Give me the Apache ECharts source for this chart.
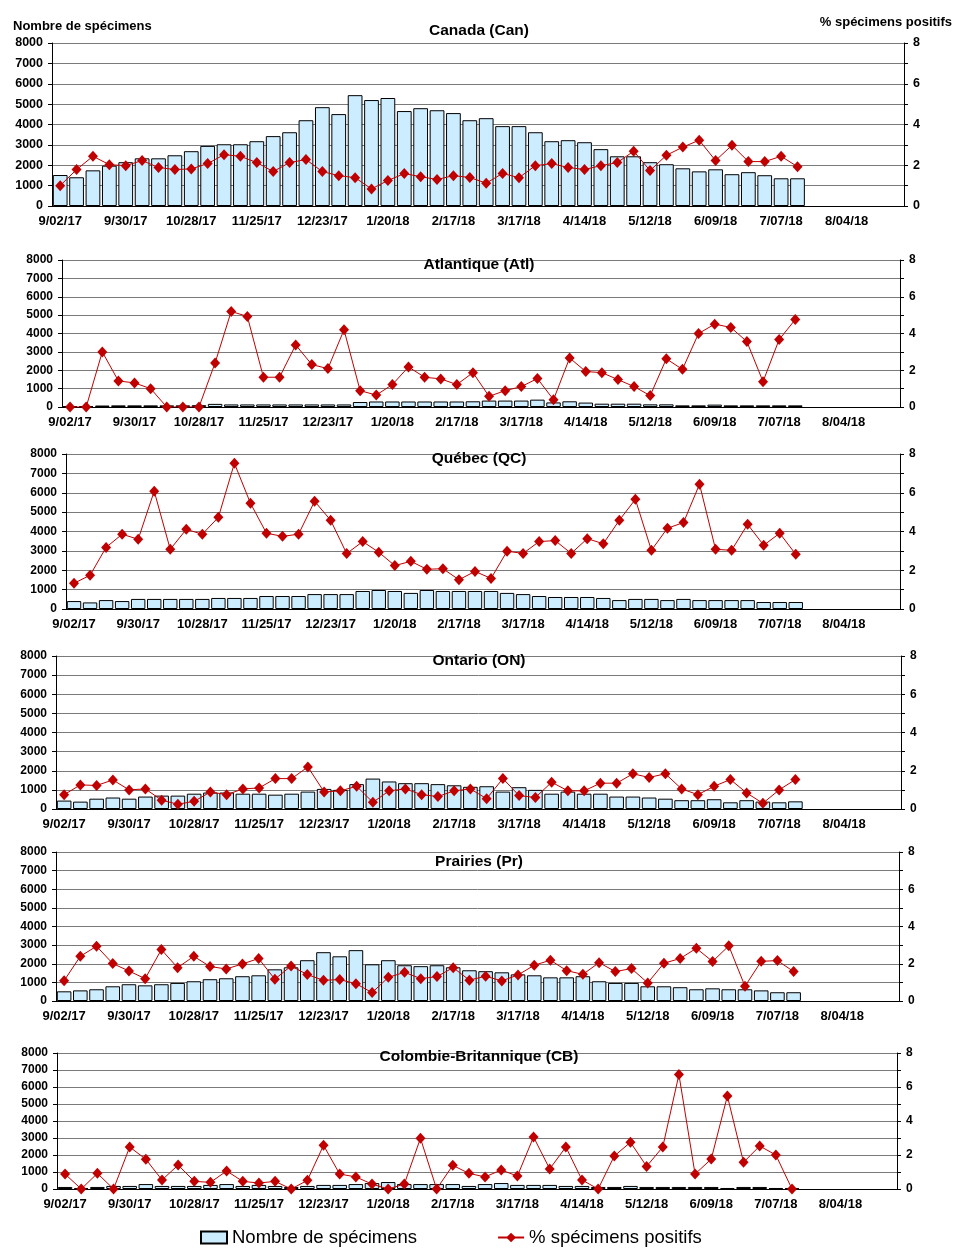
<!DOCTYPE html>
<html>
<head>
<meta charset="UTF-8">
<title>Spécimens par semaine</title>
<style>
    html,body{padding:0; margin:0; background:#fff;}
    #main{width:959px; height:1260px;}
</style>
<script src="https://cdn.jsdelivr.net/npm/echarts@6/dist/echarts.min.js"></script>
</head>
<body>
<div id="main"></div>
<script type="text/javascript">
    // semaines (axe des catégories)
    var weeks = ['9/02/17','9/09/17','9/16/17','9/23/17','9/30/17','10/07/17','10/14/17','10/21/17',
        '10/28/17','11/04/17','11/11/17','11/18/17','11/25/17','12/02/17','12/09/17','12/16/17',
        '12/23/17','12/30/17','1/06/18','1/13/18','1/20/18','1/27/18','2/03/18','2/10/18',
        '2/17/18','2/24/18','3/03/18','3/10/18','3/17/18','3/24/18','3/31/18','4/07/18',
        '4/14/18','4/21/18','4/28/18','5/05/18','5/12/18','5/19/18','5/26/18','6/02/18',
        '6/09/18','6/16/18','6/23/18','6/30/18','7/07/18','7/14/18','7/21/18','7/28/18',
        '8/04/18','8/11/18','8/18/18','8/25/18'];

    // Canada
    var canNombre = [1520,1410,1750,1980,2150,2340,2340,2490,2690,2950,3030,3030,3180,3430,3620,4210,
        4850,4510,5440,5200,5300,4660,4800,4700,4560,4210,4310,3920,3920,3620,3180,3230,
        3130,2790,2440,2440,2150,2050,1850,1700,1800,1560,1660,1510,1360,1360];
    var canPct = [1.0,1.79,2.44,2.03,1.98,2.23,1.89,1.79,1.82,2.08,2.52,2.44,2.13,1.69,2.13,2.28,
        1.69,1.49,1.39,0.84,1.25,1.59,1.44,1.30,1.49,1.40,1.12,1.60,1.39,1.98,2.08,1.89,
        1.79,1.98,2.13,2.69,1.74,2.49,2.89,3.23,2.23,2.98,2.18,2.18,2.44,1.93];

    // Atlantique
    var atlNombre = [40,50,80,90,90,90,90,90,100,170,140,140,140,140,140,140,
        140,140,270,300,300,300,300,300,300,310,350,350,350,400,250,310,
        240,180,180,180,145,145,90,90,130,90,90,90,90,90];
    var atlPct = [0,0,3.0,1.42,1.31,1.0,0,0,0,2.4,5.2,4.93,1.62,1.62,3.38,2.31,
        2.09,4.2,0.89,0.65,1.22,2.18,1.62,1.53,1.22,1.87,0.58,0.89,1.11,1.55,0.4,2.67,
        1.93,1.87,1.49,1.11,0.62,2.62,2.05,4.0,4.51,4.33,3.56,1.38,3.67,4.76];

    // Québec
    var qcNombre = [410,340,460,410,520,520,520,520,520,570,570,570,670,670,670,770,
        770,770,930,980,930,830,980,930,930,930,930,830,770,670,620,620,
        620,570,460,520,520,460,520,460,460,460,460,360,360,360];
    var qcPct = [1.33,1.74,3.18,3.86,3.6,6.08,3.08,4.11,3.86,4.73,7.52,5.46,3.91,3.75,3.86,5.56,
        4.58,2.86,3.48,2.93,2.24,2.46,2.05,2.08,1.51,1.94,1.58,2.98,2.87,3.48,3.53,2.87,
        3.63,3.37,4.58,5.66,3.03,4.17,4.46,6.44,3.08,3.03,4.37,3.29,3.91,2.82];

    // Ontario
    var onNombre = [440,385,540,600,540,650,700,700,800,860,860,800,800,750,800,910,
        1050,1000,1300,1590,1440,1350,1350,1300,1240,1160,1190,910,1140,1000,800,910,
        800,800,650,650,600,540,460,460,510,350,460,385,350,400];
    var onPct = [0.75,1.26,1.23,1.52,1.0,1.05,0.46,0.25,0.4,0.89,0.75,1.05,1.1,1.59,1.59,2.2,
        0.89,0.95,1.19,0.35,0.95,1.05,0.75,0.65,0.95,1.05,0.54,1.59,0.7,0.6,1.4,0.95,
        0.95,1.35,1.35,1.84,1.65,1.84,1.05,0.75,1.19,1.54,0.84,0.3,1.0,1.54];

    // Prairies
    var prNombre = [520,570,630,790,900,840,900,970,1060,1170,1220,1330,1380,1700,1810,2190,
        2620,2400,2730,1970,2190,1920,1870,1920,1810,1650,1600,1540,1430,1380,1270,1270,
        1330,1060,970,970,790,790,740,630,680,630,630,570,470,470];
    var prPct = [1.09,2.4,2.94,2.01,1.61,1.2,2.76,1.79,2.4,1.85,1.72,1.99,2.28,1.17,1.88,1.42,
        1.11,1.15,0.93,0.45,1.27,1.54,1.2,1.31,1.79,1.12,1.33,1.08,1.4,1.92,2.19,1.63,
        1.43,2.06,1.58,1.74,0.97,2.03,2.28,2.83,2.12,2.96,0.79,2.13,2.17,1.58];

    // Colombie-Britannique
    var cbNombre = [120,60,120,180,180,290,180,180,180,240,290,180,240,180,120,180,
        240,240,290,350,410,290,290,290,290,180,290,350,240,240,240,180,
        180,120,120,180,120,120,120,120,120,60,120,120,60,60];
    var cbPct = [0.88,0,0.92,0,2.47,1.75,0.53,1.41,0.45,0.39,1.06,0.45,0.35,0.45,0,0.51,
        2.57,0.88,0.71,0.29,0,0.29,2.98,0,1.39,0.92,0.71,1.12,0.76,3.06,1.18,2.47,
        0.53,0,1.94,2.75,1.33,2.47,6.73,0.88,1.76,5.47,1.57,2.53,2.0,0];

    var nomBarres = 'Nombre de spécimens';
    var nomLigne = '% spécimens positifs';

    var panels = [
        {titre:'Canada (Can)', n:canNombre, p:canPct, left:52, top:43, width:852, height:163, ty:31, fs:12.5},
        {titre:'Atlantique (Atl)', n:atlNombre, p:atlPct, left:62, top:260, width:838, height:147, ty:265, fs:12},
        {titre:'Québec (QC)', n:qcNombre, p:qcPct, left:66, top:454, width:834, height:155, ty:459, fs:12},
        {titre:'Ontario (ON)', n:onNombre, p:onPct, left:56, top:656, width:845, height:153, ty:661, fs:12},
        {titre:'Prairies (Pr)', n:prNombre, p:prPct, left:56, top:852, width:843, height:149, ty:862, fs:12},
        {titre:'Colombie-Britannique (CB)', n:cbNombre, p:cbPct, left:57, top:1053, width:840, height:136, ty:1057, fs:12}
    ];

    var police = '"Liberation Sans", Arial, sans-serif';
    var rouge = '#C00000';
    var gris = '#7a7a7a';

    var grids = [], xAxes = [], yAxes = [], series = [], graphics = [];
    panels.forEach(function (pn, i) {
        grids.push({left: pn.left, top: pn.top, width: pn.width, height: pn.height});
        xAxes.push({
            type: 'category', gridIndex: i, data: weeks, boundaryGap: true,
            axisLine: {lineStyle: {color: '#000', width: 1}},
            axisTick: {interval: 0, length: 5, lineStyle: {color: '#000'}},
            axisLabel: {interval: 3, margin: 9, color: '#000', fontWeight: 'bold', fontSize: 13, fontFamily: police},
            splitLine: {show: false}
        });
        yAxes.push({
            type: 'value', gridIndex: i, min: 0, max: 8000, interval: 1000,
            axisLine: {show: true, lineStyle: {color: '#000'}},
            axisTick: {show: true, length: 4, lineStyle: {color: '#000'}},
            axisLabel: {margin: 9, color: '#000', fontWeight: 'bold', fontSize: pn.fs, fontFamily: police,
                formatter: function (v) { return String(v); }},
            splitLine: {show: false}
        });
        // axe de droite : lignes de quadrillage tous les 1, étiquettes aux valeurs paires
        yAxes.push({
            type: 'value', gridIndex: i, position: 'right', min: 0, max: 8, interval: 1,
            axisLine: {show: true, lineStyle: {color: '#000'}},
            axisTick: {show: true, length: 4, lineStyle: {color: '#000'}},
            axisLabel: {margin: 9, color: '#000', fontWeight: 'bold', fontSize: pn.fs, fontFamily: police,
                formatter: function (v) { return v % 2 === 0 ? String(v) : ''; }},
            splitLine: {show: true, lineStyle: {color: gris, width: 1, type: 'solid'}}
        });
        series.push({
            name: nomBarres, type: 'bar', xAxisIndex: i, yAxisIndex: 2 * i,
            data: pn.n, barCategoryGap: '10%',
            itemStyle: {color: '#CCECFF', borderColor: '#000', borderWidth: 1}
        });
        series.push({
            name: nomLigne, type: 'line', xAxisIndex: i, yAxisIndex: 2 * i + 1,
            data: pn.p, symbol: 'diamond', symbolSize: [10, 11], showAllSymbol: true,
            itemStyle: {color: rouge},
            lineStyle: {color: rouge, width: 1}
        });
        graphics.push({
            type: 'text', z: 10,
            style: {text: pn.titre, x: 479, y: pn.ty, textAlign: 'center', textVerticalAlign: 'middle',
                font: 'bold 15.5px ' + police, fill: '#000'}
        });
    });

    graphics.push({
        type: 'text',
        style: {text: nomBarres, x: 13, y: 26, textAlign: 'left', textVerticalAlign: 'middle',
            font: 'bold 13px ' + police, fill: '#000'}
    });
    graphics.push({
        type: 'text',
        style: {text: nomLigne, x: 952, y: 22, textAlign: 'right', textVerticalAlign: 'middle',
            font: 'bold 13px ' + police, fill: '#000'}
    });

    var myChart = echarts.init(document.getElementById('main'));
    var option = {
        animation: false,
        backgroundColor: '#fff',
        grid: grids,
        xAxis: xAxes,
        yAxis: yAxes,
        series: series,
        graphic: graphics,
        legend: {
            data: [{name: nomBarres, icon: 'rect'}, nomLigne],
            left: 195, top: 1223,
            itemWidth: 26, itemHeight: 12, itemGap: 80,
            textStyle: {fontSize: 18.5, color: '#000', fontFamily: police}
        }
    };
    myChart.setOption(option);
</script>
</body>
</html>
